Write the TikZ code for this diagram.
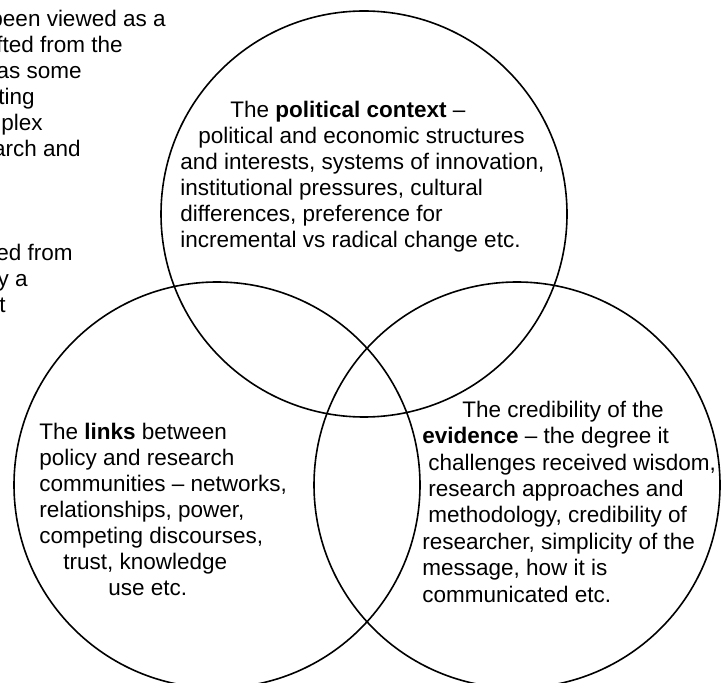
\documentclass[tikz,border=0pt]{standalone}
\usepackage{fontspec}
\setmainfont{Liberation Sans}
\usepackage{tikz}
\usetikzlibrary{positioning}

\begin{document}
\begin{tikzpicture}[x=0.5pt, y=-0.5pt,
		ring/.style={draw, circle, line width=.8pt, minimum size=203pt, inner sep=0pt},
		blurb/.style={align=left, anchor=base west, inner sep=0pt, font=\fontsize{11.25pt}{13pt}\selectfont},
		scrap/.style={anchor=base east, inner sep=0pt, font=\fontsize{11.25pt}{13pt}\selectfont}]
		\useasboundingbox (0,0) rectangle (721,683); \clip (0,0) rectangle (721,683);
		\node[ring] (politics) at (364,214) {}; \node[ring] (links) at (217,485) {}; \node[ring] (evidence) at (517,485) {};

		% anchored on the baseline of the last line
		\node[blurb] (politicstext) at (180,248) {\hspace*{25pt}The \textbf{political context} --\\ \hspace*{9pt}political and economic structures\\ and interests, systems of innovation,\\ institutional pressures, cultural\\ differences, preference for\\ incremental vs radical change etc.};
		\node[blurb] (linkstext) at (39,595) {The \textbf{links} between\\ policy and research\\ communities -- networks,\\ relationships, power,\\ competing discourses,\\ \hspace*{12pt}trust, knowledge\\ \hspace*{34.5pt}use etc.};
		\node[blurb, font=\fontsize{11.25pt}{13.2pt}\selectfont] (evidencetext) at (422,602) {\hspace*{20pt}The credibility of the\\ \textbf{evidence} -- the degree it\\ \hspace*{3pt}challenges received wisdom,\\ \hspace*{3pt}research approaches and\\ \hspace*{3pt}methodology, credibility of\\ researcher, simplicity of the\\ message, how it is\\ communicated etc.};

		\foreach \sx/\sy/\stxt in {166/27/been viewed as a, 123/53/fted from the, 82/79/as some, 35/105/ting, 43/131/plex, 81/157/arch and, 73/261/ed from, 28/287/y a, 6/313/t}
			\node[scrap] (scrap\sy) at (\sx,\sy) {\stxt};
	\end{tikzpicture}
\end{document}
